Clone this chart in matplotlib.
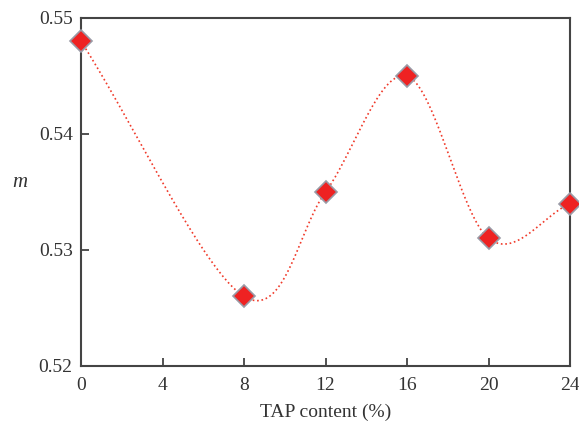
import numpy as np
import matplotlib.pyplot as plt

# data
tap = [0, 8, 12, 16, 20, 24]
m_val = [0.548, 0.526, 0.535, 0.545, 0.531, 0.534]
xticks = [0, 4, 8, 12, 16, 20, 24]
yticks = [0.52, 0.53, 0.54, 0.55]


def smooth_line(x, y, n=60):
    # Catmull-Rom style bezier through the points (like a "smoothed line")
    P = np.column_stack([x, y]).astype(float)
    k = len(P)
    T = np.zeros_like(P)
    for i in range(k):
        if i == 0:
            T[i] = P[1] - P[0]
        elif i == k - 1:
            T[i] = P[-1] - P[-2]
        else:
            T[i] = (P[i + 1] - P[i - 1]) / 2
    t = np.linspace(0, 1, n)[:, None]
    pts = []
    for i in range(k - 1):
        b0 = P[i]
        b1 = P[i] + T[i] / 3
        b2 = P[i + 1] - T[i + 1] / 3
        b3 = P[i + 1]
        seg = ((1 - t) ** 3) * b0 + 3 * ((1 - t) ** 2) * t * b1 \
            + 3 * (1 - t) * t ** 2 * b2 + t ** 3 * b3
        pts.append(seg if i == 0 else seg[1:])
    pts = np.vstack(pts)
    return pts[:, 0], pts[:, 1]


plt.rcParams['font.family'] = ['Liberation Serif', 'DejaVu Serif']

fig = plt.figure(figsize=(5.79, 4.28), dpi=100)
ax = fig.add_axes([81 / 579, 1 - 366 / 428, (570 - 81) / 579, (366 - 18) / 428])

sx, sy = smooth_line(tap, m_val)
ax.plot(sx, sy, ':', color='#f03a2a', lw=1.2)
ax.plot(tap, m_val, 'D', ms=11, color='#ee2222', mec='#9a9aa6', mew=1.2,
        linestyle='none', clip_on=False, zorder=3)

ax.set_xlim(0, 24)
ax.set_ylim(0.52, 0.55)
ax.set_xticks(xticks)
ax.set_yticks(yticks)
ax.set_yticklabels(['0.52', '0.53', '0.54', '0.55'])
ax.tick_params(direction='in', length=6, width=1.2, labelsize=14,
               colors='#333333', pad=6)
ax.tick_params(axis='x', pad=8)
for s in ax.spines.values():
    s.set_color('#444444')
    s.set_linewidth(1.5)

ax.set_xlabel('TAP content (%)', fontsize=14, color='#333333', labelpad=7)
ax.set_ylabel('m', fontsize=15, style='italic', rotation=0, color='#333333')
ax.yaxis.set_label_coords(-0.125, 0.5)

fig.savefig('out.png', dpi=100)
